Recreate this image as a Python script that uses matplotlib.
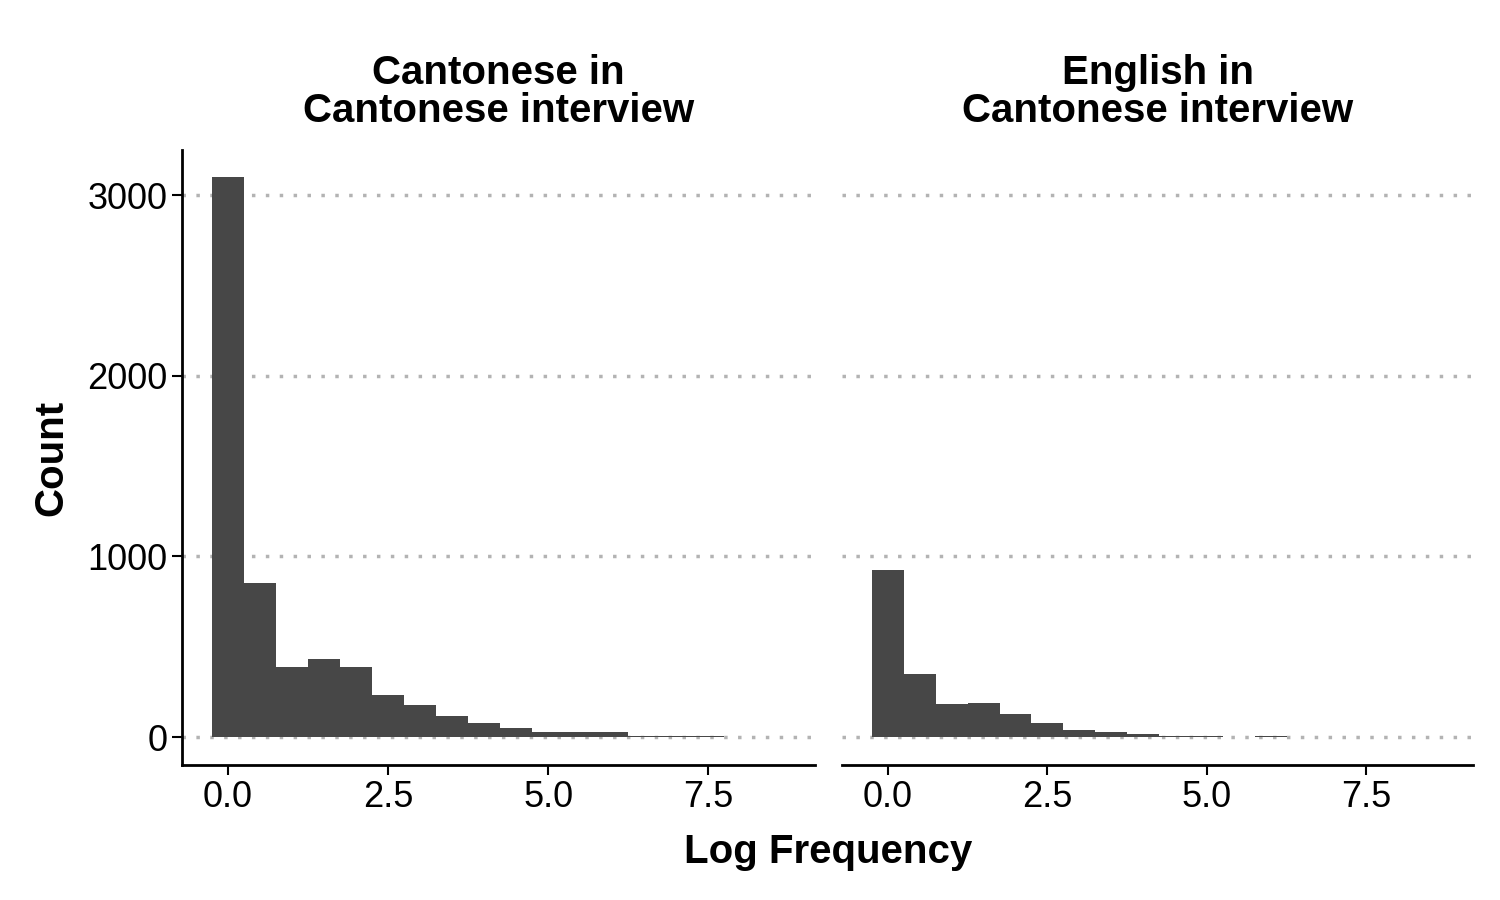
import matplotlib.pyplot as plt
import numpy as np

plt.rcParams['font.family'] = ['Liberation Sans', 'DejaVu Sans']

# bin centres (width 0.5)
bin_centres = np.arange(0, 8.0, 0.5)
cantonese_counts = [3100, 850, 390, 430, 390, 235, 175, 115, 75, 50, 25, 25, 25, 8, 8, 5]
english_counts = [925, 350, 180, 190, 130, 75, 40, 25, 15, 5, 5, 0, 4, 0, 0, 0]
titles = ["Cantonese in\nCantonese interview", "English in\nCantonese interview"]

fig = plt.figure(figsize=(15, 9), dpi=100)
ax1 = fig.add_axes([182/1500, 1-765/900, 633/1500, 615/900])
ax2 = fig.add_axes([842/1500, 1-765/900, 631/1500, 615/900], sharey=ax1)

for ax, counts, title in zip([ax1, ax2], [cantonese_counts, english_counts], titles):
    for y in [0, 1000, 2000, 3000]:
        ax.axhline(y, color="#b3b3b3", linestyle=(0, (1, 3)), linewidth=2.5, zorder=0)
    ax.bar(bin_centres, counts, width=0.5, color="#474747", zorder=2)
    ax.set_xlim(-0.72, 9.17)
    ax.set_ylim(-155, 3250)
    ax.set_xticks([0, 2.5, 5.0, 7.5])
    ax.set_xticklabels(["0.0", "2.5", "5.0", "7.5"])
    ax.set_title(title, fontsize=29, fontweight="bold", pad=20, linespacing=1.0)
    for s in ["top", "right"]:
        ax.spines[s].set_visible(False)
    ax.spines["bottom"].set_linewidth(2)
    ax.spines["left"].set_linewidth(2)
    ax.tick_params(labelsize=26, width=1.5, length=7, colors="black")

ax1.set_yticks([0, 1000, 2000, 3000])
ax1.set_ylabel("Count", fontsize=29, fontweight="bold", labelpad=12)
ax2.spines["left"].set_visible(False)
ax2.tick_params(axis="y", left=False, labelleft=False)
fig.text(828/1500, 1-852/900, "Log Frequency", fontsize=29, fontweight="bold", ha="center", va="center")

fig.savefig("out.png", dpi=100)
